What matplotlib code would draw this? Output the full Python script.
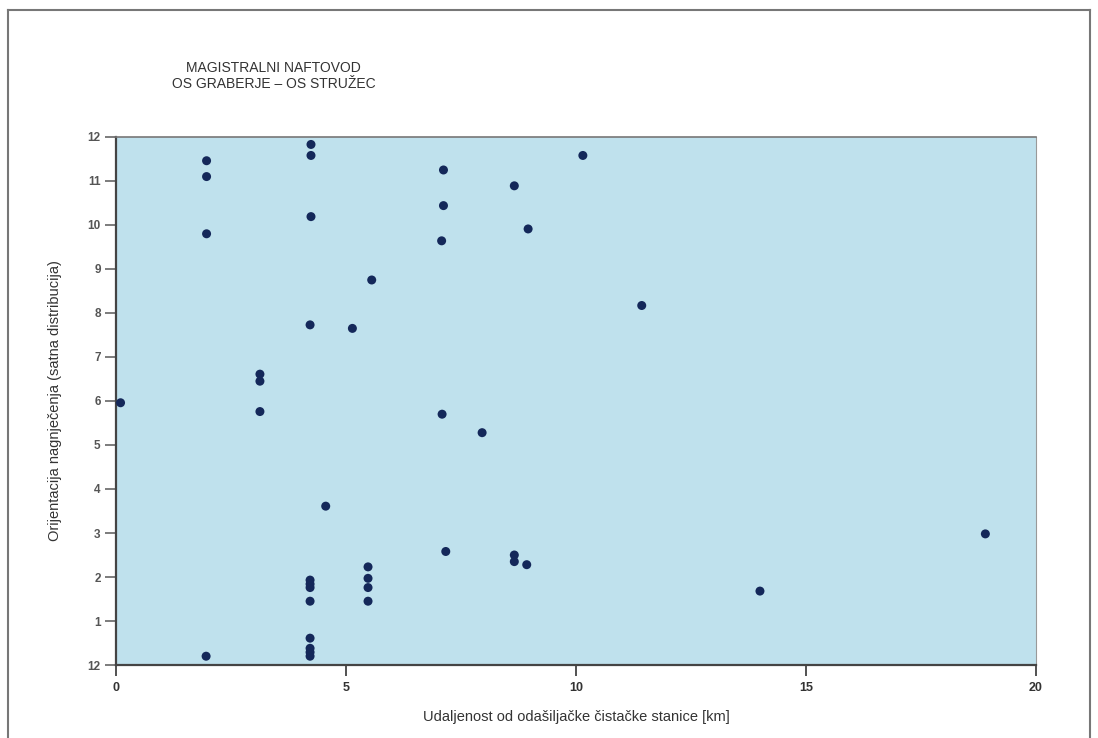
import matplotlib
matplotlib.use("Agg")
import matplotlib.pyplot as plt
from matplotlib.lines import Line2D

# Distance from launching pig station [km] and orientation (clock position)
distance_km = [
    1.97, 1.97, 1.97, 1.96,
    4.24, 4.24, 4.24, 4.22,
    4.22, 4.22, 4.22, 4.22, 4.22, 4.22, 4.22, 4.22,
    5.56, 5.14,
    0.10,
    3.13, 3.13, 3.13,
    4.56,
    5.48, 5.48, 5.48, 5.48,
    7.12, 7.12, 7.08, 7.09,
    8.66, 8.96, 10.15, 11.43, 7.96,
    7.17, 8.66, 8.66, 8.93,
    14.0, 18.9,
]
orientation = [
    11.46, 11.10, 9.80, 0.20,
    11.83, 11.58, 10.19, 7.73,
    1.93, 1.84, 1.76, 1.45, 0.61, 0.38, 0.29, 0.20,
    8.75, 7.65,
    5.96,
    6.61, 6.45, 5.76,
    3.61,
    2.23, 1.97, 1.76, 1.45,
    11.25, 10.44, 9.64, 5.70,
    10.89, 9.91, 11.58, 8.17, 5.28,
    2.58, 2.50, 2.35, 2.28,
    1.68, 2.98,
]

x_ticks = [0, 5, 10, 15, 20]
y_ticks = list(range(13))
y_tick_labels = ["12"] + [str(i) for i in range(1, 13)]

title_text = "MAGISTRALNI NAFTOVOD\nOS GRABERJE \u2013 OS STRU\u017dEC"
x_label = "Udaljenost od oda\u0161ilja\u010dke \u010dista\u010dke stanice [km]"
y_label = "Orijentacija nagnje\u010denja (satna distribucija)"

plt.rcParams.update({
    "font.family": ["Liberation Sans", "DejaVu Sans"],
    "figure.facecolor": "white",
})

fig = plt.figure(figsize=(10.98, 7.38), dpi=100)
ax = fig.add_axes([0.1056, 0.0989, 0.8379, 0.7155])
ax.set_facecolor("#bfe1ed")

ax.scatter(distance_km, orientation, s=42, color="#14285a", zorder=3,
           edgecolors="none")

ax.set_xlim(0, 20)
ax.set_ylim(0, 12)
ax.set_xticks(x_ticks)
ax.set_xticklabels([str(t) for t in x_ticks], fontsize=9, fontweight="bold",
                   color="#333333")
ax.set_yticks(y_ticks)
ax.set_yticklabels(y_tick_labels, fontsize=8.5, fontweight="bold",
                   color="#555555")
ax.tick_params(axis="y", length=8, width=1.2, color="#666666", pad=3)
ax.tick_params(axis="x", length=8, width=1.2, color="#333333", pad=4)

for side in ["left", "bottom"]:
    ax.spines[side].set_color("#444444")
    ax.spines[side].set_linewidth(1.6)
ax.spines["top"].set_color("#777777")
ax.spines["top"].set_linewidth(1.2)
ax.spines["right"].set_color("#999999")
ax.spines["right"].set_linewidth(0.8)

ax.set_xlabel(x_label, fontsize=10.5, color="#333333", labelpad=12)
ax.set_ylabel(y_label, fontsize=10.5, color="#333333", labelpad=18)

fig.text(0.249, 0.897, title_text, ha="center", va="center", fontsize=10,
         color="#333333", linespacing=1.2)

# frame around the whole figure (scanned page border)
fw, fh = 1098, 738
for xs, ys in [([8, 8], [738, 10]), ([8, 1090], [10, 10]), ([1090, 1090], [10, 738])]:
    fig.add_artist(Line2D([x / fw for x in xs], [1 - y / fh for y in ys],
                          transform=fig.transFigure, color="#777777", lw=1.5))

fig.savefig("out.png", dpi=100)
